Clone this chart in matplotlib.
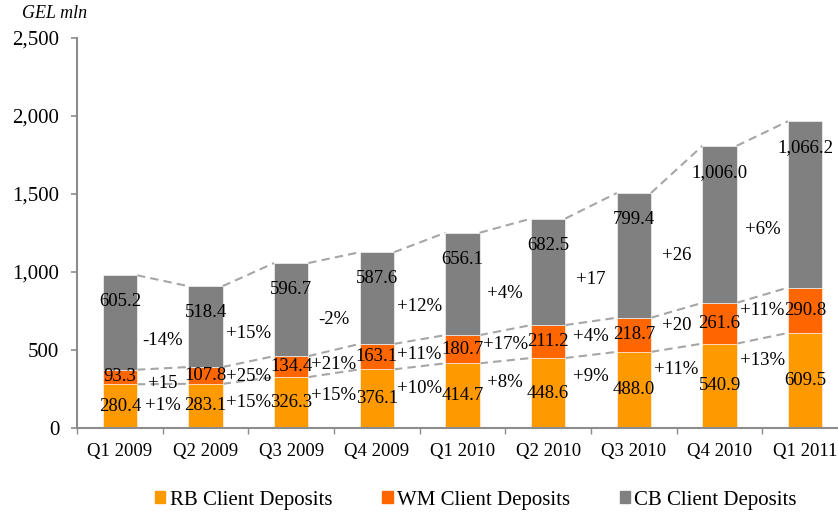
import matplotlib
matplotlib.use("Agg")
import matplotlib.pyplot as plt
from matplotlib.patches import Patch
from matplotlib.ticker import FuncFormatter, FixedLocator
import numpy as np

plt.rcParams['font.family'] = ['Liberation Serif', 'DejaVu Serif']

quarters = ['Q1 2009', 'Q2 2009', 'Q3 2009', 'Q4 2009', 'Q1 2010',
            'Q2 2010', 'Q3 2010', 'Q4 2010', 'Q1 2011']
rb = [280.4, 283.1, 326.3, 376.1, 414.7, 448.6, 488.0, 540.9, 609.5]
wm = [93.3, 107.8, 134.4, 163.1, 180.7, 211.2, 218.7, 261.6, 290.8]
cb = [605.2, 518.4, 596.7, 587.6, 656.1, 682.5, 799.4, 1006.0, 1066.2]

# quarter-on-quarter growth labels (as printed between the bars)
rb_growth = ['+1%', '+15%', '+15%', '+10%', '+8%', '+9%', '+11%', '+13%']
wm_growth = ['+15', '+25%', '+21%', '+11%', '+17%', '+4%', '+20', '+11%']
cb_growth = ['-14%', '+15%', '-2%', '+12%', '+4%', '+17', '+26', '+6%']

c_rb = '#FF9900'
c_wm = '#FF6600'
c_cb = '#808080'
c_axis = '#8C8C8C'
c_dash = '#A6A6A6'

rb = np.array(rb)
wm = np.array(wm)
cb = np.array(cb)
x = np.arange(len(quarters))
w = 0.4

fig = plt.figure(figsize=(8.38, 5.16), dpi=100)
ax = fig.add_axes([77 / 838, 88 / 516, 771 / 838, 390 / 516])

ax.bar(x, rb, w, color=c_rb, edgecolor='white', linewidth=0.4, zorder=2)
ax.bar(x, wm, w, bottom=rb, color=c_wm, edgecolor='white', linewidth=0.4, zorder=2)
ax.bar(x, cb, w, bottom=rb + wm, color=c_cb, edgecolor='white', linewidth=0.4, zorder=2)

# dashed connectors between the tops of each level
levels = [rb, rb + wm, rb + wm + cb]
for lv in levels:
    for i in range(len(x) - 1):
        ax.plot([x[i] + w / 2, x[i + 1] - w / 2], [lv[i], lv[i + 1]],
                color=c_dash, ls=(0, (4, 2.5)), lw=1.5, zorder=1)

fs = 13.5
top = rb + wm + cb
for i in range(len(x)):
    ax.text(x[i], rb[i] / 2, f'{rb[i]:,.1f}', ha='center', va='center', fontsize=fs, zorder=3)
    ax.text(x[i], rb[i] + wm[i] / 2, f'{wm[i]:,.1f}', ha='center', va='center', fontsize=fs, zorder=3)
    ax.text(x[i], top[i] - 170, f'{cb[i]:,.1f}', ha='center', va='center', fontsize=fs, zorder=3)

l_rb = levels[0]
l_wm = levels[1]
for i in range(len(x) - 1):
    xm = x[i] + 0.5
    rb_mid = (l_rb[i] + l_rb[i + 1]) / 2
    wm_mid = (l_wm[i] + l_wm[i + 1]) / 2
    top_mid = (top[i] + top[i + 1]) / 2
    ax.text(xm, rb_mid - 140, rb_growth[i], ha='center', va='center', fontsize=fs, zorder=3)
    ax.text(xm, wm_mid - 95, wm_growth[i], ha='center', va='center', fontsize=fs, zorder=3)
    ax.text(xm, (wm_mid + top_mid) / 2 - 100, cb_growth[i], ha='center', va='center', fontsize=fs, zorder=3)

ax.set_xlim(-0.5, len(x) - 0.5)
ax.set_ylim(0, 2500)
ax.set_yticks(np.arange(0, 2501, 500))
ax.yaxis.set_major_formatter(FuncFormatter(lambda v, p: f'{v:,.0f}'))
ax.set_xticks(x)
ax.set_xticklabels(quarters)
ax.xaxis.set_minor_locator(FixedLocator(np.arange(-0.5, len(x), 1.0)))

for s in ['top', 'right']:
    ax.spines[s].set_visible(False)
for s in ['left', 'bottom']:
    ax.spines[s].set_color(c_axis)
    ax.spines[s].set_linewidth(1.5)

ax.tick_params(axis='y', length=4.3, width=1.2, color=c_axis, pad=8.5, labelsize=15)
ax.tick_params(axis='x', which='major', length=0, pad=11, labelsize=13.5)
ax.tick_params(axis='x', which='minor', length=4, width=1, color=c_axis)

fig.text(55 / 838, 1 - 14 / 516, 'GEL mln', ha='center', va='center',
         fontsize=13, style='italic')

handles = [Patch(color=c_rb, label='RB Client Deposits'),
           Patch(color=c_wm, label='WM Client Deposits'),
           Patch(color=c_cb, label='CB Client Deposits')]
fig.legend(handles=handles, loc='center', bbox_to_anchor=(476 / 838, 16 / 516),
           ncol=3, frameon=False, fontsize=15, handlelength=0.5, handleheight=0.5,
           handletextpad=0.2, columnspacing=2.4)

fig.savefig('out.png', dpi=100)
